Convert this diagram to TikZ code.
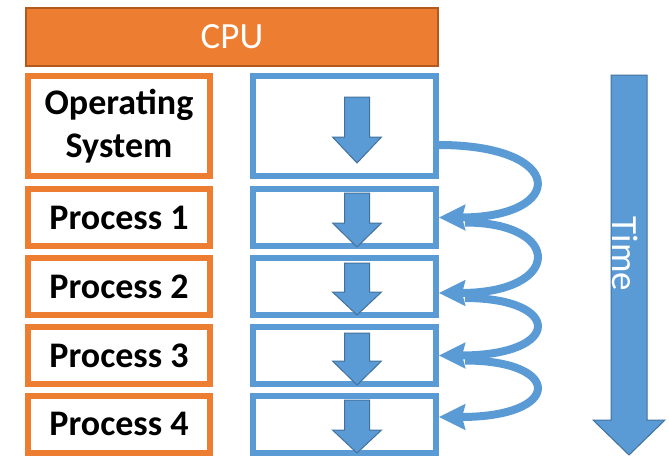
\documentclass[tikz,border=0pt]{standalone}
\usepackage{fontspec}
\setmainfont{Carlito}
\usetikzlibrary{arrows.meta}
\definecolor{orng}{HTML}{ED7D31}
\definecolor{orngdk}{HTML}{B4591E}
\definecolor{blu}{HTML}{5B9BD5}
\definecolor{bludk}{HTML}{41719C}
\newcommand\dnarr[4]{%
  \filldraw[arrfill] (#1-12.5,#2) -- (#1+12.5,#2) -- (#1+12.5,#3) -- (#1+24.5,#3)
    -- (#1,#4) -- (#1-24.5,#3) -- (#1-12.5,#3) -- cycle;}
\begin{document}
\begin{tikzpicture}[x=1pt,y=-1pt,
  obox/.style={draw=orng, line width=6pt, fill=white, minimum width=182pt,
    minimum height=57pt, inner sep=0pt, align=center,
    font=\fontsize{36}{43}\selectfont\bfseries},
  bbox/.style={draw=blu, line width=6pt, minimum width=183pt,
    minimum height=57pt, inner sep=0pt},
  flow/.style={draw=blu, line width=8pt,
    -{Stealth[length=26pt,width=25pt,inset=3pt]}},
  arrfill/.style={fill=blu, draw=bludk, line width=1pt, line join=miter}]
\useasboundingbox (0,0) rectangle (669,456);

% CPU bar
\node[draw=orngdk, fill=orng, line width=1.2pt, minimum width=412pt,
  minimum height=58pt, inner sep=0pt, text=white,
  font=\fontsize{37}{42}\selectfont] (cpu) at (232,37) {CPU};

% left column
\node[obox, minimum height=100pt] (os) at (119,126) {Operating\\System};
\node[obox] (p1) at (119,217.5) {Process 1};
\node[obox] (p2) at (119,286.5) {Process 2};
\node[obox] (p3) at (119,355.5) {Process 3};
\node[obox] (p4) at (119,424) {Process 4};

% right column
\node[bbox, minimum height=100pt] (b0) at (344.5,126) {};
\node[bbox] (b1) at (344.5,217.5) {};
\node[bbox] (b2) at (344.5,286.5) {};
\node[bbox] (b3) at (344.5,355.5) {};
\node[bbox] (b4) at (344.5,424) {};

% small down arrows
\dnarr{357}{97}{137}{163}
\dnarr{357}{193}{223}{247}
\dnarr{357}{263}{292}{315}
\dnarr{357}{333}{361}{385}
\dnarr{357}{400}{430}{453}

% switching arrows
\draw[flow] ([yshift=-19pt]b0.east) .. controls +(128,0) and +(128,0) .. (b1.east);
\draw[flow] ([xshift=26pt,yshift=-5pt]b1.east) .. controls +(98,0) and +(124,0) .. ([yshift=-6.5pt]b2.east);
\draw[flow] ([xshift=26pt,yshift=-11.5pt]b2.east) .. controls +(98,0) and +(124,0) .. (b3.east);
\draw[flow] ([xshift=26pt,yshift=-5pt]b3.east) .. controls +(98,0) and +(124,0) .. ([yshift=7pt]b4.east);

% time arrow
\filldraw[fill=blu, draw=bludk, line width=1pt, line join=miter]
  (611,75) -- (647,75) -- (647,420) -- (665,420) -- (629,455) -- (593,420) -- (611,420) -- cycle;
\node[text=white, rotate=-90, font=\fontsize{37}{42}\selectfont] (time) at (625,254) {Time};
\end{tikzpicture}
\end{document}
